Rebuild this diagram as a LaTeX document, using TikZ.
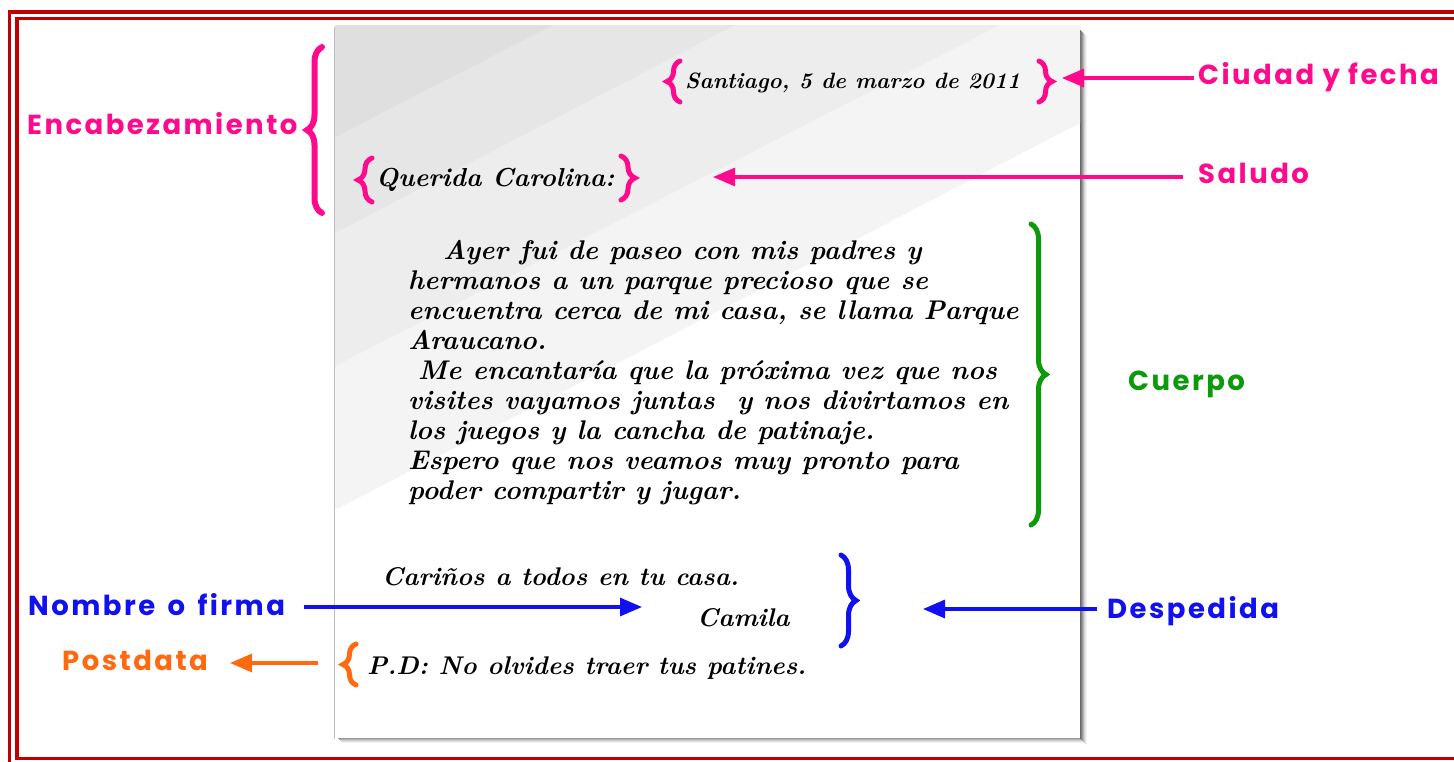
\documentclass[tikz,border=0pt]{standalone}
\usepackage{fontspec}
\newfontfamily\labfont{Poppins}[LetterSpace=9]
\usetikzlibrary{arrows.meta,decorations.pathreplacing}
\definecolor{pinkc}{HTML}{FF0A8C}
\definecolor{greenc}{HTML}{0A9A0A}
\definecolor{bluec}{HTML}{1010F0}
\definecolor{orangec}{HTML}{FF6A10}
\definecolor{redc}{HTML}{C00000}
\definecolor{band1}{HTML}{F4F4F4}
\definecolor{band2}{HTML}{EDEDED}
\definecolor{band3}{HTML}{E6E6E6}
\definecolor{band4}{HTML}{DFDFDF}
\begin{document}
\begin{tikzpicture}[x=1pt,y=-1pt,
  lab/.style={font=\labfont\bfseries\fontsize{27.5}{30}\selectfont, inner sep=0pt, anchor=base west},
  lettertext/.style={font=\bfseries\itshape\fontsize{27}{30}\selectfont, inner sep=0pt, anchor=base west},
  smalltext/.style={font=\bfseries\itshape\fontsize{25.6}{28}\selectfont},
  bigbrace/.style={decorate, decoration={brace, amplitude=#1}, line width=5pt, line cap=round},
  arr/.style={line width=3.2pt, -{Triangle[length=22pt,width=18pt]}}
]
\clip (0,0) rectangle (1454,761);
\fill[white] (0,0) rectangle (1454,761);
% border
\draw[redc, line width=3.5pt] (9.5,12) rectangle (1480,790);
\draw[redc, line width=3.5pt] (17,18.5) rectangle (1475,758.5);
% paper shadow
\foreach \i/\c in {0/60,1/50,2/40,3/28,4/18,5/10,6/5}
  \fill[black!\c] (1080+\i,30+\i) rectangle (1081+\i,739+\i);
\foreach \i/\c in {0/40,1/30,2/20,3/12,4/6}
  \fill[black!\c] (338+\i,738+\i) rectangle (1080+\i,739+\i);
\draw[black!25, line width=1.5pt] (334.5,27) -- (334.5,739);
% paper
\fill[white] (335,25) rectangle (1080,738);
\fill[band1] (335,25) -- (1080,25) -- (1080,123) -- (335,510) -- cycle;
\fill[band2] (335,25) -- (1000,25) -- (335,366) -- cycle;
\fill[band3] (335,25) -- (735,25) -- (335,233) -- cycle;
\fill[band4] (335,25) -- (553,25) -- (335,137) -- cycle;
% letter text
\node[lettertext, font=\bfseries\itshape\fontsize{22.2}{24}\selectfont] (fecha) at (685,88) {Santiago, 5 de marzo de 2011};
\node[lettertext, font=\bfseries\itshape\fontsize{26}{28}\selectfont] (saludo) at (376,186) {Querida Carolina:};
\node[lettertext, anchor=north west, align=left] (body) at (408,240) {\hspace*{35pt}Ayer fui de paseo con mis padres y\\
hermanos a un parque precioso que se\\
encuentra cerca de mi casa, se llama Parque\\
Araucano.\\
\hspace*{10pt}Me encantaría que la próxima vez que nos\\
visites vayamos juntas\ \ y nos divirtamos en\\
los juegos y la cancha de patinaje.\\
Espero que nos veamos muy pronto para\\
poder compartir y jugar.};
\node[lettertext, smalltext] (carinos) at (382,585) {Cariños a todos en tu casa.};
\node[lettertext, smalltext] (camila) at (697,626) {Camila};
\node[lettertext, smalltext] (pd) at (367,674) {P.D: No olvides traer tus patines.};
% braces
\draw[pinkc, bigbrace=15pt, line width=6pt] (322,213) -- (322,47);
\draw[pinkc, bigbrace=13pt] (680,102) -- (680,61);
\draw[pinkc, bigbrace=13pt] (1039,61) -- (1039,102);
\draw[pinkc, bigbrace=14pt] (372,202) -- (372,158);
\draw[pinkc, bigbrace=14pt] (621,156) -- (621,200);
\draw[greenc, bigbrace=15pt] (1031,224) -- (1031,525);
\draw[bluec, bigbrace=15pt] (841,555) -- (841,646);
\draw[orangec, bigbrace=13pt] (356,685) -- (356,644);
% labels
\node[lab, text=pinkc] (lenc) at (27,134) {Encabezamiento};
\node[lab, text=pinkc] (lciudad) at (1198,84) {Ciudad y fecha};
\node[lab, text=pinkc] (lsaludo) at (1198,183) {Saludo};
\node[lab, text=greenc] (lcuerpo) at (1128,390) {Cuerpo};
\node[lab, text=bluec] (lnombre) at (28,615) {Nombre\hspace{0.45em}o\hspace{0.45em}firma};
\node[lab, text=bluec] (ldesp) at (1107,618) {Despedida};
\node[lab, text=orangec] (lpost) at (62,670) {Postdata};
% arrow ends
\coordinate (tciudad) at (1062,78);
\coordinate (tsaludo) at (713,177);
\coordinate (tnombre) at (642,607);
\coordinate (tdesp) at (923,609);
\coordinate (tpost) at (230,663);
\coordinate (sciudad) at (1194,78);
\coordinate (ssaludo) at (1183,177);
\coordinate (snombre) at (304,607);
\coordinate (sdesp) at (1097,609);
\coordinate (spost) at (318,663);
\draw[arr, pinkc] (sciudad) -- (tciudad);
\draw[arr, pinkc] (ssaludo) -- (tsaludo);
\draw[arr, bluec] (snombre) -- (tnombre);
\draw[arr, bluec] (sdesp) -- (tdesp);
\draw[arr, orangec] (spost) -- (tpost);
\end{tikzpicture}
\end{document}
